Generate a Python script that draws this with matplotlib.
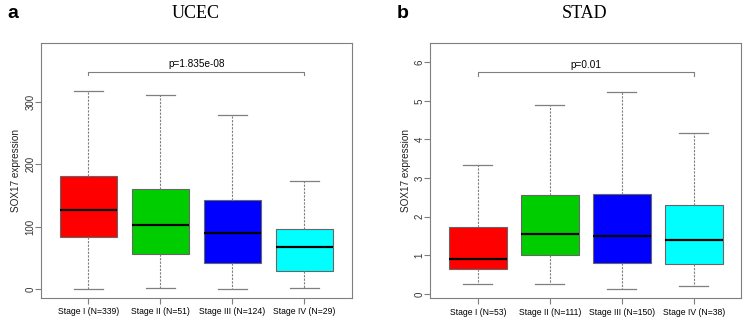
import matplotlib
matplotlib.use("Agg")
import matplotlib.pyplot as plt

plt.rcParams['font.family'] = ['Liberation Sans', 'DejaVu Sans']

# Stage labels
ucec_labels = ["Stage I (N=339)", "Stage II (N=51)", "Stage III (N=124)", "Stage IV (N=29)"]
stad_labels = ["Stage I (N=53)", "Stage II (N=111)", "Stage III (N=150)", "Stage IV (N=38)"]

# box stats: low whisker, Q1, median, Q3, high whisker
ucec_low = [0, 1, 0, 1]
ucec_q1 = [83, 56, 42, 28]
ucec_med = [126, 102, 90, 68]
ucec_q3 = [182, 160, 142, 96]
ucec_high = [318, 312, 280, 174]

stad_low = [0.26, 0.26, 0.14, 0.22]
stad_q1 = [0.65, 1.0, 0.80, 0.79]
stad_med = [0.92, 1.56, 1.51, 1.40]
stad_q3 = [1.74, 2.57, 2.59, 2.30]
stad_high = [3.34, 4.88, 5.22, 4.16]

box_colors = ["#FF0000", "#00CD00", "#0000FF", "#00FFFF"]

GRAY = "#7f7f7f"


def draw_panel(ax, labels, low, q1, med, q3, high, yticks, ylim, bracket_y, tick_len, ptext):
    stats = []
    for i in range(len(labels)):
        stats.append(dict(whislo=low[i], q1=q1[i], med=med[i], q3=q3[i],
                          whishi=high[i], fliers=[], label=labels[i]))
    bp = ax.bxp(stats, positions=range(1, len(labels) + 1), widths=0.8,
                patch_artist=True, showfliers=False,
                boxprops=dict(edgecolor="#666666", linewidth=0.8),
                medianprops=dict(color="black", linewidth=1.6),
                whiskerprops=dict(color=GRAY, linewidth=0.8, linestyle=(0, (2, 1.2))),
                capprops=dict(color=GRAY, linewidth=0.9),
                capwidths=0.4)
    for patch, c in zip(bp['boxes'], box_colors):
        patch.set_facecolor(c)

    ax.set_xlim(0.34, 4.66)
    ax.set_ylim(*ylim)
    ax.set_yticks(yticks)
    ax.set_yticklabels([str(t) for t in yticks], rotation=90, va="center", fontsize=7)
    ax.tick_params(axis="x", labelsize=6.2, length=4, color=GRAY, pad=3)
    ax.tick_params(axis="y", length=4, color=GRAY, pad=0, labelcolor="#333333")
    for s in ax.spines.values():
        s.set_color(GRAY)
        s.set_linewidth(0.8)
    ax.set_ylabel("SOX17 expression", fontsize=7.2, labelpad=3, color="#222222")

    # significance bracket between Stage I and Stage IV
    ax.plot([1, 1, 4, 4], [bracket_y - tick_len, bracket_y, bracket_y, bracket_y - tick_len],
            color=GRAY, linewidth=0.8)
    ax.text(2.5, bracket_y + tick_len * 0.6, ptext, ha="center", va="bottom", fontsize=7.2)


fig = plt.figure(figsize=(7.45, 3.2), dpi=100)
ax1 = fig.add_axes([0.055, 0.070, 0.4175, 0.796])
ax2 = fig.add_axes([0.5776, 0.069, 0.4174, 0.797])

draw_panel(ax1, ucec_labels, ucec_low, ucec_q1, ucec_med, ucec_q3, ucec_high,
           [0, 100, 200, 300], (-14, 395), 349, 6, "p=1.835e-08")
draw_panel(ax2, stad_labels, stad_low, stad_q1, stad_med, stad_q3, stad_high,
           [0, 1, 2, 3, 4, 5, 6], (-0.1, 6.5), 5.75, 0.1, "p=0.01")

fig.text(0.263, 0.958, "UCEC", ha="center", va="center", fontsize=13, family="Liberation Serif")
fig.text(0.785, 0.958, "STAD", ha="center", va="center", fontsize=13, family="Liberation Serif")
fig.text(0.010, 0.958, "a", ha="left", va="center", fontsize=14, fontweight="bold")
fig.text(0.533, 0.958, "b", ha="left", va="center", fontsize=14, fontweight="bold")

fig.savefig("out.png", dpi=100)
